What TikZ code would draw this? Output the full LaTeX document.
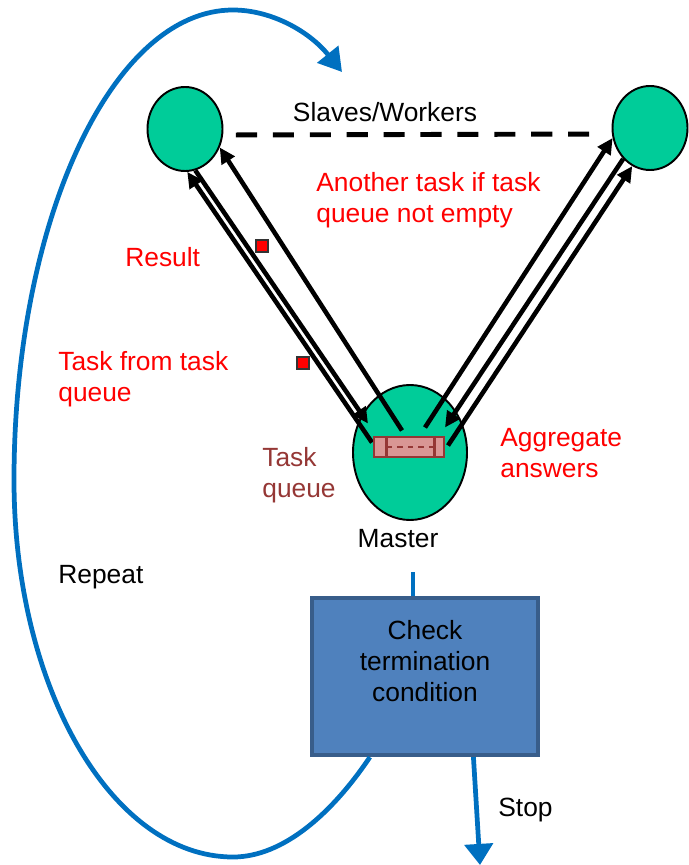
\documentclass[tikz,border=0pt]{standalone}
\usepackage{fontspec}
\setmainfont{Liberation Sans}
\usetikzlibrary{arrows.meta,shapes.geometric,positioning}

\definecolor{wgreen}{RGB}{0,204,153}
\definecolor{qfill}{RGB}{217,150,148}
\definecolor{qedge}{RGB}{149,55,53}
\definecolor{loopblue}{RGB}{0,112,192}
\definecolor{boxfill}{RGB}{79,129,189}
\definecolor{boxedge}{RGB}{56,93,138}

\begin{document}
\begin{tikzpicture}[every node/.style={font=\fontsize{15}{17.5}\selectfont},
    worker/.style={ellipse,draw,line width=1.1pt,fill=wgreen,inner sep=0pt,minimum width=1.5cm,minimum height=1.68cm},
    msg/.style={line width=2.6pt,-{Triangle[length=9pt,width=8.5pt]}},
    token/.style={draw=black!80,fill=red,line width=0.8pt,minimum size=0.24cm,inner sep=0pt},
    blueline/.style={loopblue,line width=2.7pt},
    lbl/.style={align=left,inner sep=0pt}]
    \useasboundingbox (0,0) rectangle (13.76,-17.30);

    % workers and master
    \node[worker] (w_1) at (3.70,-2.58) {};
    \node[worker] (w_2) at (13.00,-2.56) {};
    \node[worker,minimum width=2.28cm,minimum height=2.70cm] (m) at (8.20,-9.05) {};
    \draw[line width=2.8pt,dash pattern=on 12pt off 9pt,shorten <=0.25cm,shorten >=0.14cm]
        ([yshift=-0.12cm]w_1.east) -- ([yshift=-0.12cm]w_2.west);

    \path[msg]
    ([shift={(-0.76,0.20)}]m.center) edge (w_1.-87)
    (w_1.-76) edge ([shift={(-0.84,0.58)}]m.center)
    ([shift={(-0.16,0.44)}]m.center) edge (w_1.-28)
    ([shift={(0.30,0.50)}]m.center) edge (w_2.-165)
    (w_2.-131) edge ([shift={(0.70,0.50)}]m.center)
    ([shift={(0.76,0.14)}]m.center) edge (w_2.-115);

    % task queue
    \node[draw=qedge,fill=qfill,line width=1.5pt,minimum width=1.4cm,minimum height=0.4cm,inner sep=0pt] (tq) at (8.18,-8.94) {};
    \draw[qedge,line width=1.5pt] ([xshift=0.28cm]tq.north west) -- ([xshift=0.28cm]tq.south west)
        ([xshift=-0.22cm]tq.north east) -- ([xshift=-0.22cm]tq.south east);
    \draw[qedge,line width=1pt,dashed] ([xshift=0.28cm]tq.west) -- ([xshift=-0.22cm]tq.east);

    \node[token] (r_1) at (5.24,-4.92) {};
    \node[token] (r_2) at (6.06,-7.26) {};

    % termination check
    \node (mlabel) [below=0.05cm of m,xshift=-0.24cm] {Master};
    \coordinate (feed) at (8.26,-11.44);
    \coordinate (stopend) at (9.60,-17.30);
    \coordinate (looptip) at (6.84,-1.44);
    \draw[blueline] (feed) -- (feed |- 0,-12.1);
    \draw[blueline,-{Triangle[length=12pt,width=16pt]}] (9.46,-15.0) -- (stopend);
    \node[draw=boxedge,fill=boxfill,line width=2.4pt,minimum width=4.52cm,minimum height=3.14cm,inner sep=0pt] (chk) at (8.50,-13.53) {};
    \node[align=center] (chktext) at (8.50,-13.22) {Check\\termination\\condition};
    \draw[blueline,-{Triangle[length=13pt,width=15pt]}] ([xshift=1.2cm]chk.south west)
        .. controls (6.66,-16.24) and (5.68,-17.14) .. (4.66,-17.14)
        .. controls (2.24,-17.14) and (0.28,-13.76) .. (0.28,-9.60)
        .. controls (0.28,-4.42) and (2.24,-0.20) .. (4.66,-0.20)
        .. controls (5.42,-0.20) and (6.18,-0.62) .. (looptip);

    % labels
    \node[lbl] (sw) at (7.70,-2.24) {Slaves/Workers};
    \node[lbl,red,anchor=west] (another) at (6.32,-4.00) {Another task if task\\queue not empty};
    \node[lbl,red,anchor=west] (res) at (2.50,-5.14) {Result};
    \node[lbl,red,anchor=west] (tft) at (1.16,-7.58) {Task from task\\queue};
    \node[lbl,qedge,anchor=west] (tql) at (5.24,-9.50) {Task\\queue};
    \node[lbl,red,anchor=west] (agg) at (10.00,-9.06) {Aggregate\\answers};
    \node[lbl,anchor=west] (rep) at (1.16,-11.54) {Repeat};
    \node[lbl,anchor=west] (stp) at (9.96,-16.20) {Stop};
\end{tikzpicture}
\end{document}
